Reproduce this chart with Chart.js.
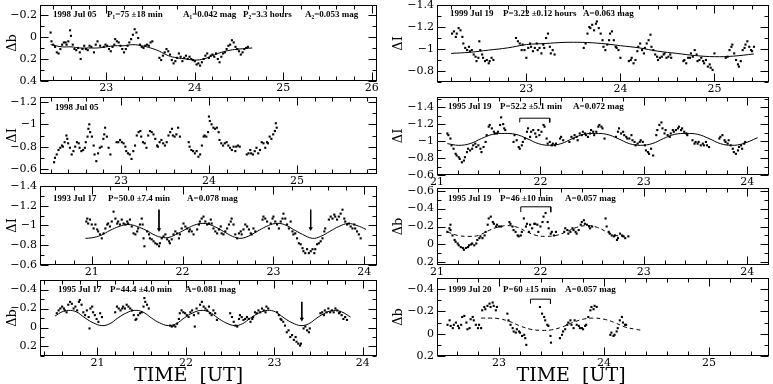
<!DOCTYPE html>
<html>
<head>
<meta charset="utf-8">
<script src="https://cdn.jsdelivr.net/npm/chart.js@4.4.1/dist/chart.umd.min.js"></script>
<style>
  body { margin: 0; background: #fff; width: 773px; height: 384px; position: relative; overflow: hidden; }
  canvas { position: absolute; background: transparent; }
</style>
</head>
<body>
<script>
// ---------- data (time in UT hours, magnitude differences) ----------

// left column, panel 1 : delta b, 1998 Jul 05
const L1_DB = [[22.37,-0.04],[22.38,0.04],[22.40,0.07],[22.42,0.09],[22.44,0.14],[22.46,0.15],[22.48,0.11],[22.50,0.07],[22.52,0.05],[22.54,0.05],[22.55,0.07],[22.57,0.04],[22.59,-0.06],[22.60,-0.01],[22.62,0.07],[22.64,0.11],[22.66,0.12],[22.68,0.10],[22.70,0.14],[22.71,0.20],[22.73,0.11],[22.75,0.08],[22.77,0.11],[22.79,0.12],[22.81,0.08],[22.83,0.09],[22.86,0.14],[22.88,0.07],[22.90,0.04],[22.93,0.08],[22.97,0.09],[22.99,0.07],[23.01,0.08],[23.03,0.11],[23.05,0.13],[23.07,0.09],[23.09,0.07],[23.10,0.02],[23.12,0.04],[23.14,0.05],[23.16,0.08],[23.18,0.11],[23.20,0.14],[23.22,0.11],[23.24,0.08],[23.26,0.05],[23.28,0.02],[23.30,-0.02],[23.32,-0.07],[23.34,-0.04],[23.36,0.01],[23.38,0.07],[23.40,0.09],[23.42,0.10],[23.44,0.08],[23.46,0.07],[23.48,0.08],[23.50,0.05],[23.52,0.04],
  [23.60,0.19],[23.62,0.21],[23.64,0.17],[23.66,0.14],[23.68,0.11],[23.70,0.13],[23.72,0.16],[23.74,0.21],[23.76,0.24],[23.78,0.22],[23.80,0.19],[23.82,0.15],[23.84,0.18],[23.86,0.22],[23.88,0.19],[23.90,0.17],[23.92,0.20],[23.94,0.18],[23.96,0.20],[23.98,0.21],[24.00,0.22],[24.02,0.25],[24.04,0.24],[24.06,0.26],[24.08,0.23],[24.10,0.20],[24.12,0.17],[24.14,0.15],[24.16,0.19],[24.18,0.17],[24.20,0.16],[24.22,0.18],[24.24,0.15],[24.26,0.20],[24.28,0.23],[24.30,0.18],[24.32,0.15],[24.34,0.14],[24.36,0.11],[24.38,0.08],[24.40,0.07],[24.42,0.03],[24.44,0.05],[24.46,0.09],[24.48,0.11],[24.50,0.13],[24.52,0.16],[24.54,0.14],[24.56,0.11],[24.58,0.10],[24.60,0.09]];
const L1_FIT = [[22.37,0.07],[22.5,0.09],[22.6,0.09],[22.7,0.10],[22.8,0.10],[22.9,0.10],[23.0,0.09],[23.1,0.08],[23.2,0.08],[23.3,0.07],[23.4,0.08],[23.5,0.10],[23.6,0.13],[23.7,0.17],[23.8,0.19],[23.9,0.20],[24.0,0.21],[24.1,0.20],[24.2,0.17],[24.3,0.14],[24.4,0.12],[24.5,0.11],[24.65,0.10]];

// left column, panel 2 : delta I, 1998 Jul 05
const L2_DI = [[22.24,-0.66],[22.25,-0.70],[22.27,-0.73],[22.29,-0.77],[22.31,-0.79],[22.33,-0.81],[22.34,-0.80],[22.36,-0.84],[22.38,-0.90],[22.39,-0.87],[22.40,-0.83],[22.42,-0.79],[22.44,-0.73],[22.46,-0.76],[22.48,-0.80],[22.50,-0.84],[22.52,-0.83],[22.53,-0.79],[22.55,-0.76],[22.57,-0.77],[22.59,-0.79],[22.60,-0.84],[22.62,-0.89],[22.63,-0.96],[22.64,-1.00],[22.65,-0.93],[22.67,-0.89],[22.69,-0.81],[22.70,-0.73],[22.72,-0.67],[22.74,-0.74],[22.76,-0.79],[22.78,-0.80],[22.80,-0.87],[22.81,-0.91],[22.82,-0.97],[22.84,-0.89],[22.86,-0.79],[22.88,-0.73],
  [22.95,-0.84],[22.97,-0.84],[22.99,-0.86],[23.01,-0.84],[23.03,-0.83],[23.05,-0.80],[23.06,-0.76],[23.08,-0.74],[23.10,-0.73],[23.12,-0.69],[23.14,-0.76],[23.16,-0.81],[23.18,-0.90],[23.20,-0.93],[23.22,-0.94],[23.23,-0.89],[23.25,-0.84],[23.27,-0.83],[23.29,-0.79],[23.31,-0.90],[23.33,-0.94],[23.35,-0.93],[23.37,-0.91],[23.39,-0.87],[23.41,-0.81],[23.42,-0.80],[23.44,-0.84],[23.46,-0.86],[23.48,-0.83],[23.50,-0.81],[23.52,-0.84],[23.54,-0.90],[23.56,-0.93],[23.58,-0.96],[23.59,-0.90],[23.61,-0.89],[23.63,-0.91],[23.65,-0.97],[23.67,-0.89],
  [23.77,-0.84],[23.78,-0.80],[23.80,-0.77],[23.82,-0.76],[23.84,-0.74],[23.86,-0.76],[23.88,-0.71],[23.90,-0.73],[23.92,-0.81],[23.94,-0.89],[23.95,-0.90],[23.97,-0.89],[23.99,-0.93],[24.00,-1.07],[24.01,-1.03],[24.03,-1.00],[24.05,-0.97],[24.07,-0.96],[24.09,-0.97],[24.11,-0.93],[24.12,-0.86],[24.14,-0.83],[24.16,-0.81],[24.18,-0.83],[24.20,-0.84],[24.22,-0.81],[24.24,-0.79],[24.26,-0.77],[24.28,-0.80],[24.30,-0.76],[24.31,-0.80],[24.33,-0.81],[24.35,-0.80],
  [24.43,-0.73],[24.45,-0.74],[24.47,-0.77],[24.48,-0.74],[24.50,-0.73],[24.52,-0.76],[24.54,-0.79],[24.56,-0.74],[24.58,-0.77],[24.60,-0.84],[24.62,-0.83],[24.64,-0.79],[24.66,-0.84],[24.67,-0.83],[24.69,-0.89],[24.71,-0.87],[24.73,-0.91],[24.75,-0.94],[24.76,-1.01],[24.77,-0.97]];

// left column, panel 3 : delta I, 1993 Jul 17
const L3_DI = [[20.94,-1.04],[20.95,-1.07],[20.96,-1.02],[20.98,-1.06],[21.00,-1.01],[21.02,-0.97],[21.04,-1.01],[21.06,-0.96],[21.07,-0.94],[21.09,-0.91],[21.11,-0.87],[21.13,-0.92],[21.15,-0.97],[21.17,-1.01],[21.18,-1.02],[21.20,-0.99],[21.22,-1.04],[21.24,-1.14],[21.26,-1.07],[21.28,-1.02],[21.29,-1.04],[21.31,-1.01],[21.33,-1.06],[21.35,-1.02],[21.37,-1.01],[21.39,-1.04],[21.40,-1.02],[21.42,-1.06],[21.44,-0.99],[21.46,-0.92],[21.48,-0.91],[21.50,-0.94],[21.51,-0.97],[21.53,-1.01],[21.55,-1.07],[21.56,-1.01],[21.57,-0.87],[21.58,-0.79],
  [21.61,-0.94],[21.63,-0.91],[21.64,-0.87],[21.66,-0.86],[21.68,-0.84],[21.70,-0.82],[21.72,-0.81],[21.74,-0.79],[21.75,-0.82],[21.77,-0.87],[21.79,-0.89],[21.81,-0.91],[21.83,-0.86],[21.85,-0.84],[21.86,-0.82],[21.88,-0.86],[21.90,-0.91],[21.92,-0.94],[21.94,-0.92],[21.96,-0.87],[21.97,-0.91],[21.99,-0.97],[22.01,-1.02],[22.03,-0.99],[22.05,-0.97],[22.07,-0.94],[22.08,-0.96],[22.10,-0.94],[22.12,-0.91],
  [22.16,-0.96],[22.18,-1.01],[22.19,-1.04],[22.21,-1.07],[22.23,-1.09],[22.25,-1.04],[22.27,-1.01],[22.29,-1.02],[22.31,-1.06],[22.32,-1.02],[22.34,-0.97],[22.36,-0.94],[22.38,-0.92],[22.40,-0.96],[22.42,-0.99],[22.43,-0.92],[22.45,-0.91],[22.47,-0.94],[22.49,-0.97],[22.51,-1.01],[22.53,-1.04],[22.54,-1.07],[22.56,-1.01],[22.58,-0.91],[22.60,-0.87],[22.62,-0.92],[22.64,-0.94],[22.65,-0.91],[22.67,-0.96],[22.69,-1.01],[22.71,-0.99],[22.73,-0.96],[22.75,-0.92],[22.76,-0.91],[22.78,-0.97],[22.80,-0.94],
  [22.88,-1.06],[22.89,-1.09],[22.91,-1.07],[22.93,-1.04],[22.95,-0.97],[22.97,-1.02],[22.99,-1.07],[23.00,-1.09],[23.02,-1.04],[23.04,-1.01],[23.06,-0.97],[23.08,-1.04],[23.10,-1.07],[23.11,-1.12],[23.13,-1.07],[23.15,-1.01],[23.17,-0.97],[23.19,-1.04],[23.21,-0.94],[23.22,-0.91],[23.24,-0.92],[23.26,-0.87],[23.28,-0.82],[23.30,-0.81],[23.32,-0.77],[23.33,-0.74],[23.35,-0.72],[23.37,-0.76],[23.39,-0.72],[23.41,-0.74],[23.43,-0.76],[23.45,-0.72],[23.46,-0.76],[23.48,-0.81],[23.50,-0.82],[23.52,-0.84],[23.54,-0.87],[23.56,-0.94],[23.57,-0.97],
  [23.61,-1.06],[23.63,-1.09],[23.65,-1.07],[23.67,-1.11],[23.68,-1.09],[23.70,-1.06],[23.72,-1.09],[23.74,-1.12],[23.76,-1.16],[23.78,-1.07],[23.79,-1.04],[23.81,-1.01],[23.83,-1.02],[23.85,-0.99],[23.87,-0.97],[23.89,-1.01],[23.90,-0.97],[23.92,-0.94],[23.94,-0.91],[23.96,-0.87]];
const L3_FIT = [[20.93,-0.87],[21.0,-0.875],[21.1,-0.90],[21.2,-0.95],[21.3,-0.99],[21.4,-1.01],[21.5,-0.99],[21.6,-0.95],[21.7,-0.90],[21.77,-0.88],[21.85,-0.88],[21.95,-0.92],[22.05,-0.97],[22.15,-1.01],[22.25,-1.02],[22.35,-0.99],[22.45,-0.94],[22.55,-0.89],[22.63,-0.87],[22.72,-0.89],[22.82,-0.94],[22.92,-0.99],[23.02,-1.02],[23.12,-1.01],[23.22,-0.96],[23.32,-0.91],[23.43,-0.87],[23.52,-0.89],[23.62,-0.94],[23.72,-0.99],[23.82,-1.02],[23.92,-1.00],[24.02,-0.96]];
const L3_ARROW_A = [[21.74,-1.16],[21.74,-0.96]];
const L3_ARROW_B = [[23.41,-1.16],[23.41,-0.97]];

// left column, panel 4 : delta b, 1995 Jul 17
const L4_DB = [[20.54,-0.15],[20.56,-0.18],[20.58,-0.20],[20.60,-0.22],[20.62,-0.20],[20.63,-0.18],[20.65,-0.16],[20.67,-0.24],[20.69,-0.27],[20.71,-0.25],[20.73,-0.20],[20.75,-0.22],[20.77,-0.18],[20.79,-0.27],[20.80,-0.29],[20.82,-0.24],[20.84,-0.16],[20.86,-0.13],[20.88,-0.18],[20.90,-0.11],[20.91,0.01],[20.92,-0.20],[20.94,-0.22],[20.95,-0.16],[20.97,-0.13],[20.99,-0.09],[21.01,-0.06],[21.03,-0.15],[21.05,-0.11],
  [21.20,-0.16],[21.22,-0.22],[21.24,-0.20],[21.26,-0.18],[21.28,-0.20],[21.29,-0.22],[21.31,-0.20],[21.33,-0.24],[21.35,-0.22],[21.37,-0.20],[21.39,-0.18],[21.41,-0.13],[21.43,-0.08],[21.44,-0.09],[21.46,-0.13],[21.48,-0.15],[21.50,-0.16],[21.52,-0.22],[21.53,-0.31],[21.54,-0.27],[21.56,-0.24],[21.58,-0.20],
  [21.82,-0.02],[21.84,-0.01],[21.86,-0.02],[21.88,-0.01],[21.90,-0.04],[21.92,-0.09],[21.93,-0.15],[21.95,-0.18],[21.97,-0.16],[21.99,-0.15],[22.01,-0.13],[22.03,-0.11],[22.05,-0.16],[22.07,-0.18],[22.09,-0.13],[22.10,-0.01],[22.12,-0.20],[22.14,-0.15],[22.16,-0.24],[22.18,-0.27],[22.20,-0.22],[22.22,-0.20],[22.24,-0.18],[22.26,-0.22],[22.27,-0.15],[22.29,-0.13],[22.31,-0.18],[22.33,-0.15],[22.35,-0.08],
  [22.50,-0.15],[22.52,-0.11],[22.54,-0.06],[22.56,-0.02],[22.58,-0.01],[22.60,-0.09],[22.61,-0.13],[22.63,-0.11],[22.65,-0.08],[22.67,-0.09],[22.69,-0.11],[22.71,-0.09],[22.73,-0.06],[22.75,-0.09],[22.76,-0.11],[22.78,-0.16],[22.80,-0.15],[22.82,-0.18],[22.84,-0.16],[22.86,-0.20],[22.88,-0.18],[22.90,-0.16],[22.91,-0.22],[22.93,-0.20],
  [23.03,-0.16],[23.05,-0.13],[23.07,-0.09],[23.08,-0.08],[23.10,-0.06],[23.12,-0.02],[23.14,0.05],[23.16,0.03],[23.18,0.10],[23.20,0.08],[23.22,0.13],[23.24,0.10],[23.25,0.15],[23.27,0.17],[23.29,0.19],[23.30,0.17],[23.33,0.01],[23.35,-0.01],[23.37,0.03],[23.39,0.05],[23.40,0.01],
  [23.52,-0.15],[23.54,-0.16],[23.56,-0.13],[23.57,-0.18],[23.59,-0.16],[23.61,-0.20],[23.63,-0.16],[23.65,-0.18],[23.67,-0.16],[23.69,-0.20],[23.71,-0.18],[23.73,-0.15],[23.74,-0.16],[23.76,-0.13],[23.78,-0.09],[23.80,-0.11],[23.82,-0.08]];
const L4_FIT = [[20.52,-0.12],[20.60,-0.165],[20.67,-0.18],[20.76,-0.165],[20.86,-0.10],[20.95,-0.05],[21.05,-0.02],[21.14,-0.04],[21.23,-0.10],[21.33,-0.155],[21.42,-0.18],[21.51,-0.165],[21.61,-0.10],[21.70,-0.05],[21.80,-0.02],[21.89,-0.04],[21.98,-0.10],[22.08,-0.155],[22.17,-0.18],[22.26,-0.165],[22.36,-0.10],[22.45,-0.05],[22.55,-0.02],[22.64,-0.04],[22.73,-0.10],[22.83,-0.155],[22.92,-0.18],[23.01,-0.165],[23.11,-0.10],[23.20,-0.05],[23.30,-0.02],[23.39,-0.04],[23.48,-0.10],[23.58,-0.155],[23.67,-0.18],[23.76,-0.165],[23.86,-0.11]];
const L4_ARROW = [[23.31,-0.27],[23.31,-0.09]];

// right column, panel 1 : delta I, 1999 Jul 19
const R1_DI = [[22.21,-1.14],[22.23,-1.16],[22.25,-1.11],[22.26,-1.14],[22.28,-1.19],[22.30,-1.17],[22.32,-1.11],[22.33,-1.05],[22.35,-1.01],[22.37,-0.99],[22.39,-1.02],[22.40,-0.98],[22.42,-0.99],[22.44,-0.95],[22.46,-0.93],[22.47,-0.89],[22.49,-0.92],[22.50,-1.07],[22.51,-0.99],[22.53,-0.95],[22.54,-0.92],[22.56,-0.89],[22.58,-0.90],[22.60,-0.87],[22.61,-0.89],[22.63,-0.92],[22.65,-0.90],
  [22.89,-1.10],[22.91,-1.07],[22.93,-1.05],[22.95,-0.99],[22.96,-1.04],[22.98,-0.99],[23.00,-0.92],[23.02,-1.01],[23.04,-1.05],[23.05,-1.02],[23.07,-0.98],[23.09,-1.01],[23.11,-1.05],[23.12,-0.99],[23.14,-1.01],[23.16,-0.96],[23.18,-1.04],[23.19,-1.01],[23.21,-1.10],[23.23,-1.14],[23.25,-1.02],[23.26,-0.96],[23.28,-0.99],[23.30,-0.95],
  [23.61,-1.01],[23.63,-1.05],[23.65,-1.14],[23.67,-1.20],[23.68,-1.19],[23.70,-1.22],[23.72,-1.17],[23.74,-1.23],[23.75,-1.25],[23.77,-1.19],[23.79,-1.14],[23.81,-1.08],[23.82,-1.02],[23.84,-0.99],[23.86,-1.04],[23.88,-1.08],[23.89,-1.14],[23.91,-1.16],[23.93,-1.08],[23.95,-1.02],[23.96,-1.01],[23.98,-0.99],[24.00,-0.92],
  [24.09,-0.89],[24.11,-0.90],[24.12,-0.92],[24.14,-0.87],[24.16,-0.90],[24.18,-0.98],[24.19,-1.02],[24.21,-1.05],[24.23,-0.99],[24.25,-0.96],[24.26,-1.01],[24.28,-1.05],[24.30,-1.08],[24.32,-1.13],[24.33,-1.02],[24.35,-0.99],[24.37,-0.95],[24.39,-0.93],[24.40,-0.90],[24.42,-0.92],[24.44,-0.93],[24.46,-0.95],[24.47,-0.96],[24.49,-0.92],[24.51,-0.93],[24.53,-0.95],[24.54,-0.92],
  [24.67,-0.89],[24.68,-0.90],[24.70,-0.87],[24.72,-0.92],[24.74,-0.92],[24.75,-0.96],[24.77,-0.93],[24.79,-0.99],[24.81,-0.95],[24.82,-0.89],[24.84,-0.90],[24.86,-0.92],[24.88,-0.89],[24.89,-0.87],[24.91,-0.90],[24.93,-0.84],[24.95,-0.86],[24.96,-0.83],[24.98,-0.81],[25.00,-0.96],
  [25.12,-0.92],[25.14,-0.93],[25.16,-0.99],[25.18,-1.02],[25.19,-1.04],[25.21,-0.96],[25.23,-0.90],[25.25,-0.86],[25.26,-0.84],[25.28,-0.89],[25.30,-0.99],[25.32,-1.01],[25.33,-1.04],[25.35,-1.07],[25.37,-1.02],[25.39,-0.99],[25.40,-0.98],[25.42,-1.02]];
const R1_FIT = [[22.20,-0.96],[22.4,-0.97],[22.6,-0.99],[22.8,-1.01],[23.0,-1.04],[23.2,-1.05],[23.4,-1.06],[23.6,-1.06],[23.8,-1.05],[24.0,-1.03],[24.2,-1.01],[24.4,-0.98],[24.6,-0.96],[24.8,-0.94],[25.0,-0.93],[25.2,-0.935],[25.42,-0.955]];

// right column, panel 2 : delta I, 1995 Jul 19
const R2_DI = [[21.10,-1.09],[21.11,-1.07],[21.13,-1.03],[21.14,-0.95],[21.16,-0.91],[21.18,-0.85],[21.19,-0.83],[21.21,-0.81],[21.22,-0.79],[21.24,-0.75],[21.26,-0.77],[21.27,-0.81],[21.29,-0.87],[21.30,-0.91],[21.32,-0.89],[21.34,-0.91],[21.35,-0.95],[21.37,-0.97],[21.38,-0.93],[21.40,-0.95],[21.42,-0.91],[21.43,-0.87],[21.45,-0.93],[21.47,-0.99],[21.48,-1.07],[21.50,-1.17],[21.51,-1.19],[21.53,-1.15],[21.55,-1.11],[21.56,-1.09],[21.58,-1.09],[21.59,-1.11],[21.61,-1.19],[21.62,-1.28],[21.64,-1.20],[21.65,-1.15],[21.66,-1.13],
  [21.74,-0.99],[21.75,-1.07],[21.77,-1.01],[21.79,-0.93],[21.80,-0.91],[21.82,-0.95],[21.83,-0.99],[21.85,-1.03],[21.87,-1.11],[21.88,-1.15],[21.90,-1.05],[21.91,-1.11],[21.93,-1.13],[21.95,-1.09],[21.96,-1.05],[21.98,-1.13],[21.99,-1.07],[22.01,-1.11],[22.03,-1.19],[22.04,-1.17],[22.06,-1.03],[22.07,-0.97],[22.09,-0.99],[22.11,-0.95],[22.12,-0.97],[22.14,-0.95],[22.15,-0.97],[22.19,-1.03],[22.20,-1.05],[22.22,-1.01],
  [22.28,-0.99],[22.30,-1.05],[22.32,-1.03],[22.33,-1.07],[22.35,-1.05],[22.36,-1.01],[22.38,-1.09],[22.40,-1.07],[22.41,-1.11],[22.43,-1.09],[22.44,-1.07],[22.46,-1.05],[22.48,-1.09],[22.49,-1.13],[22.51,-1.11],[22.52,-1.07],[22.54,-1.11],[22.56,-1.17],[22.57,-1.19],[22.59,-1.17],[22.60,-1.15],[22.62,-1.03],
  [22.73,-1.05],[22.75,-1.11],[22.76,-1.15],[22.78,-1.09],[22.80,-1.11],[22.81,-1.07],[22.83,-1.05],[22.84,-1.03],[22.86,-1.03],[22.88,-1.07],[22.89,-1.01],[22.91,-0.99],[22.92,-0.95],[22.94,-0.97],[22.96,-0.99],[22.97,-1.01],[22.99,-0.99],[23.01,-0.95],[23.02,-0.89],[23.04,-0.87],[23.05,-0.85],[23.07,-0.91],[23.09,-0.83],
  [23.12,-1.07],[23.13,-1.13],[23.15,-1.19],[23.17,-1.22],[23.18,-1.15],[23.20,-1.09],[23.21,-1.13],[23.23,-1.07],[23.25,-1.05],[23.26,-1.09],[23.28,-1.13],[23.29,-1.11],[23.31,-1.13],[23.33,-1.15],[23.34,-1.17],[23.36,-1.13],[23.37,-1.15],[23.39,-1.11],[23.41,-1.09],[23.42,-1.07],
  [23.47,-1.01],[23.49,-0.97],[23.50,-0.99],[23.52,-0.97],[23.53,-0.99],[23.55,-0.95],[23.57,-0.97],[23.58,-0.95],[23.60,-0.99],[23.61,-0.95],[23.63,-0.93],
  [23.73,-1.03],[23.74,-1.05],[23.76,-1.07],[23.78,-1.01],[23.79,-0.99],[23.81,-0.97],[23.82,-1.01],[23.84,-0.95],[23.86,-0.91],[23.87,-0.87],[23.89,-0.85],[23.91,-0.89],[23.92,-0.93],[23.94,-0.95],[23.95,-0.91],[23.97,-0.97],[23.98,-0.99]];
const R2_FIT = [[21.10,-0.97],[21.21,-0.95],[21.32,-0.97],[21.43,-1.03],[21.54,-1.08],[21.65,-1.09],[21.76,-1.08],[21.87,-1.03],[21.98,-0.97],[22.09,-0.95],[22.20,-0.97],[22.31,-1.03],[22.42,-1.08],[22.53,-1.09],[22.64,-1.08],[22.75,-1.03],[22.86,-0.97],[22.97,-0.95],[23.08,-0.97],[23.19,-1.03],[23.30,-1.08],[23.41,-1.09],[23.52,-1.08],[23.63,-1.03],[23.74,-0.97],[23.85,-0.95],[23.96,-0.97],[24.10,-1.04]];
const R2_BRACKET = [[21.80,-1.22],[21.80,-1.27],[22.09,-1.27],[22.09,-1.22]];

// right column, panel 3 : delta b, 1995 Jul 19
const R3_DB = [[21.10,-0.14],[21.12,-0.18],[21.13,-0.22],[21.13,-0.16],[21.15,-0.10],[21.17,-0.05],[21.18,-0.03],[21.20,-0.01],[21.21,0.01],[21.23,0.03],[21.25,0.04],[21.26,0.06],[21.28,0.04],[21.30,0.03],[21.31,0.01],[21.33,0.00],[21.34,-0.01],[21.36,0.01],[21.38,-0.01],[21.39,-0.05],[21.41,-0.07],[21.42,-0.09],[21.44,-0.07],[21.46,-0.10],[21.47,-0.14],[21.49,-0.22],[21.50,-0.29],[21.52,-0.31],[21.54,-0.25],[21.55,-0.23],[21.57,-0.20],[21.58,-0.22],[21.60,-0.20],[21.62,-0.20],
  [21.70,-0.25],[21.71,-0.23],[21.73,-0.20],[21.74,-0.16],[21.76,-0.14],[21.78,-0.10],[21.79,-0.09],[21.81,-0.10],[21.82,-0.14],[21.84,-0.29],[21.86,-0.20],[21.87,-0.23],[21.89,-0.14],[21.90,-0.22],[21.92,-0.18],[21.94,-0.23],[21.95,-0.23],[21.97,-0.22],[21.98,-0.14],[22.00,-0.20],[22.02,-0.25],[22.03,-0.31],[22.05,-0.35],[22.07,-0.25],[22.08,-0.18],[22.10,-0.12],[22.11,-0.14],[22.13,-0.10],[22.15,-0.14],
  [22.23,-0.14],[22.24,-0.18],[22.26,-0.16],[22.27,-0.12],[22.29,-0.14],[22.31,-0.18],[22.32,-0.16],[22.34,-0.14],[22.35,-0.12],[22.37,-0.16],[22.39,-0.22],[22.40,-0.25],[22.42,-0.27],[22.43,-0.23],[22.45,-0.22],[22.47,-0.20],[22.48,-0.18],[22.50,-0.20],
  [22.63,-0.29],[22.64,-0.20],[22.66,-0.14],[22.67,-0.12],[22.69,-0.10],[22.71,-0.09],[22.72,-0.10],[22.74,-0.05],[22.75,-0.07],[22.77,-0.12],[22.79,-0.10],[22.80,-0.09],[22.82,-0.07],[22.85,-0.09]];
const R3_FIT = [[21.10,-0.14],[21.20,-0.10],[21.30,-0.09],[21.40,-0.10],[21.49,-0.15],[21.58,-0.19],[21.68,-0.21],[21.78,-0.19],[21.87,-0.14],[21.96,-0.10],[22.05,-0.09],[22.15,-0.10],[22.25,-0.14],[22.35,-0.19],[22.45,-0.21],[22.55,-0.19],[22.64,-0.14],[22.73,-0.10],[22.82,-0.09]];
const R3_BRACKET = [[21.81,-0.36],[21.81,-0.42],[22.10,-0.42],[22.10,-0.36]];

// right column, panel 4 : delta b, 1999 Jul 20
const R4_DB = [[22.51,-0.08],[22.53,-0.12],[22.54,-0.07],[22.56,-0.05],[22.57,-0.08],[22.59,-0.10],[22.61,-0.07],[22.62,-0.05],[22.64,-0.08],[22.65,-0.15],[22.67,-0.16],[22.69,-0.10],[22.70,-0.04],[22.72,-0.05],[22.73,-0.13],[22.75,-0.15],[22.76,-0.12],[22.78,-0.08],[22.80,-0.05],[22.81,-0.08],[22.83,-0.05],
  [22.84,-0.21],[22.86,-0.24],[22.87,-0.22],[22.89,-0.25],[22.91,-0.27],[22.92,-0.24],[22.94,-0.28],[22.95,-0.25],[22.97,-0.21],[22.98,-0.24],
  [23.08,-0.18],[23.09,-0.12],[23.11,-0.08],[23.13,-0.05],[23.14,-0.02],[23.16,-0.01],[23.17,-0.04],[23.19,-0.02],[23.20,-0.01],[23.22,0.02],[23.24,0.01],[23.25,0.04],[23.26,0.10],
  [23.39,-0.24],[23.41,-0.18],[23.43,-0.15],[23.44,-0.12],[23.46,-0.08],[23.47,-0.07],[23.49,0.02],[23.495,0.08],
  [23.58,0.04],[23.60,0.01],[23.61,-0.02],[23.63,-0.04],[23.65,-0.08],[23.66,-0.10],[23.68,-0.12],[23.69,-0.08],[23.71,-0.05],[23.72,-0.12],[23.74,-0.08],[23.76,-0.07],[23.77,-0.05],[23.79,-0.05],[23.80,-0.04],[23.82,-0.07],[23.83,-0.08],[23.85,-0.15],[23.87,-0.21],[23.88,-0.24],[23.90,-0.22],[23.91,-0.25],[23.93,-0.24],
  [24.06,0.01],[24.07,-0.01],[24.09,0.02],[24.10,0.01],[24.12,-0.02],[24.13,-0.05],[24.15,-0.12],[24.17,-0.15],[24.18,-0.10],[24.20,-0.08],[24.21,-0.08]];
const R4_FIT = [[22.83,-0.14],[22.92,-0.14],[23.0,-0.135],[23.1,-0.11],[23.2,-0.07],[23.3,-0.04],[23.4,-0.03],[23.5,-0.035],[23.6,-0.06],[23.7,-0.10],[23.8,-0.13],[23.9,-0.14],[24.0,-0.13],[24.1,-0.10],[24.2,-0.06],[24.3,-0.04],[24.36,-0.03]];
const R4_BRACKET = [[23.30,-0.27],[23.30,-0.31],[23.49,-0.31],[23.49,-0.27]];

// axis ranges and tick labels
const X_RANGE = { L1: [22.25, 26.06], L2: [22.08, 25.91], L3: [20.43, 24.14], L4: [20.35, 24.16],
                  R1: [22.05, 25.58], R2: [21.0, 24.21], R3: [21.0, 24.21], R4: [22.41, 25.57] };
const Y_RANGE = { L1: [-0.29, 0.4], L2: [-1.245, -0.555], L3: [-1.4, -0.6], L4: [-0.5, 0.3],
                  R1: [-1.4, -0.7], R2: [-1.52, -0.6], R3: [-0.63, 0.23], R4: [-0.5, 0.2] };
const X_TICKS = { L1: [23, 24, 25, 26], L2: [23, 24, 25], L3: [21, 22, 23, 24], L4: [21, 22, 23, 24],
                  R1: [23, 24, 25], R2: [21, 22, 23, 24], R3: [21, 22, 23, 24], R4: [23, 24, 25] };
const Y_TICKS = { L1: [-0.2, 0, 0.2, 0.4], L2: [-1.2, -1, -0.8, -0.6], L3: [-1.4, -1.2, -1, -0.8, -0.6],
                  L4: [-0.4, -0.2, 0, 0.2], R1: [-1.4, -1.2, -1, -0.8], R2: [-1.4, -1.2, -1, -0.8, -0.6],
                  R3: [-0.6, -0.4, -0.2, 0, 0.2], R4: [-0.4, -0.2, 0, 0.2] };

// in-panel labels: [text, offset from the panel's left edge]
const NOTES = {
  L1: [['1998 Jul 05', 13], ['P\u2081=75 \u00b118 min', 67], ['A\u2081=0.042 mag', 143], ['P\u2082=3.3 hours', 203], ['A\u2082=0.053 mag', 265]],
  L2: [['1998 Jul 05', 15]],
  L3: [['1993 Jul 17', 13], ['P=50.0 \u00b17.4 min', 68], ['A=0.078 mag', 147]],
  L4: [['1995 Jul 17', 18], ['P=44.4 \u00b14.0 min', 70], ['A=0.081 mag', 145]],
  R1: [['1999 Jul 19', 13], ['P=3.22 \u00b10.12 hours', 66], ['A=0.063 mag', 146]],
  R2: [['1995 Jul 19', 11], ['P=52.2 \u00b15.1 min', 63], ['A=0.072 mag', 136]],
  R3: [['1995 Jul 19', 11], ['P=46 \u00b110 min', 63], ['A=0.057 mag', 128]],
  R4: [['1999 Jul 20', 11], ['P=60 \u00b115 min', 66], ['A=0.057 mag', 128]]
};

// ---------- drawing ----------
Chart.defaults.font.family = "'DejaVu Serif', serif";
Chart.defaults.font.size = 11;
Chart.defaults.color = '#000';

const pts = arr => arr.map(([x, y]) => ({ x, y }));

// frame with inward ticks on all four sides (minor every 0.2 h / 0.1 mag), one instance per chart
const framePlugin = () => ({
  id: 'frame',
  afterDraw(chart) {
    const ctx = chart.ctx;
    const a = chart.chartArea;
    const xs = chart.scales.x, ys = chart.scales.y;
    const L = Math.round(a.left) + 0.5, R = Math.round(a.right) - 0.5;
    const T = Math.round(a.top) + 0.5, B = Math.round(a.bottom) - 0.5;
    ctx.save();
    ctx.setLineDash([]);
    ctx.strokeStyle = '#000';
    ctx.lineWidth = 1;
    const seg = (x1, y1, x2, y2) => { ctx.beginPath(); ctx.moveTo(x1, y1); ctx.lineTo(x2, y2); ctx.stroke(); };
    const x0 = Math.ceil(xs.min * 5 - 1e-6), x1 = Math.floor(xs.max * 5 + 1e-6);
    for (let i = x0; i <= x1; i++) {
      const px = Math.round(xs.getPixelForValue(i / 5)) + 0.5;
      const len = i % 5 === 0 ? 8 : 4;
      seg(px, T, px, T + len);
      seg(px, B, px, B - len);
    }
    const lo = Math.min(ys.min, ys.max), hi = Math.max(ys.min, ys.max);
    const y0 = Math.ceil(lo * 10 - 1e-6), y1 = Math.floor(hi * 10 + 1e-6);
    for (let j = y0; j <= y1; j++) {
      const py = Math.round(ys.getPixelForValue(j / 10)) + 0.5;
      const len = j % 2 === 0 ? 8 : 4;
      seg(L, py, L + len, py);
      seg(R, py, R - len, py);
    }
    ctx.strokeRect(L, T, R - L, B - T);
    ctx.restore();
  }
});

const notePlugin = (items, dy) => ({
  id: 'notes',
  afterDraw(chart) {
    const { ctx, chartArea: a } = chart;
    ctx.save();
    ctx.font = "bold 9px 'Liberation Serif', serif";
    ctx.fillStyle = '#000';
    ctx.textBaseline = 'middle';
    items.forEach(([t, dx]) => ctx.fillText(t, a.left + dx, a.top + dy));
    ctx.restore();
  }
});

const dots = d => ({ data: pts(d), pointStyle: 'rect', pointRadius: 1.5, backgroundColor: '#000', borderWidth: 0 });
const curve = (d, dash) => ({ data: pts(d), showLine: true, borderColor: '#000', borderWidth: 1, pointRadius: 0, tension: 0.4, borderDash: dash || [] });
const bracket = d => ({ data: pts(d), showLine: true, borderColor: '#000', borderWidth: 1, pointRadius: 0, tension: 0 });
const arrow = d => ({ data: pts(d), showLine: true, borderColor: '#000', borderWidth: 1, tension: 0,
                      pointRadius: [0, 2.5], pointStyle: 'triangle', rotation: 180, backgroundColor: '#000', pointBorderWidth: 0 });

const yFmt = v => String(Math.round(v * 10) / 10).replace('-', '\u2212');

let zi = 1;
function panel(key, geo, yTitle, datasets, dy) {
  const left = geo.col === 'L';
  const canvasLeft = left ? 0 : 370;
  const width = left ? 385 : 403;
  const padR = left ? 8 : 1;
  const yw = left ? 40 : 67;
  const titlePad = left ? 5 : 20.7;
  const padTop = 11;
  const top = geo.top - padTop;
  const titleH = 16.15;
  const height = geo.last ? 384 - top : padTop + (geo.bottom - geo.top) + 14;
  const xh = geo.last ? 384 - geo.bottom - titleH : 14;

  const cv = document.createElement('canvas');
  cv.width = width; cv.height = height;
  cv.style.left = canvasLeft + 'px'; cv.style.top = top + 'px';
  cv.style.zIndex = String(zi++);
  document.body.appendChild(cv);

  new Chart(cv, {
    type: 'scatter',
    data: { datasets },
    options: {
      responsive: false,
      animation: false,
      events: [],
      layout: { padding: { top: padTop, right: padR, left: 0, bottom: 0 } },
      plugins: {
        legend: { display: false },
        tooltip: { enabled: false },
        title: geo.last
          ? { display: true, position: 'bottom', text: 'TIME  [UT]', font: { size: 19, weight: 'normal', lineHeight: 0.85 }, padding: { top: 0, bottom: 0 } }
          : { display: false }
      },
      scales: {
        x: {
          type: 'linear', min: X_RANGE[key][0], max: X_RANGE[key][1],
          grid: { display: false, drawTicks: false }, border: { display: false },
          ticks: { padding: 1, maxRotation: 0, autoSkip: false, callback: v => String(Math.round(v)) },
          afterBuildTicks: s => { s.ticks = X_TICKS[key].map(v => ({ value: v })); },
          afterFit: s => { s.height = xh; }
        },
        y: {
          type: 'linear', reverse: true, min: Y_RANGE[key][0], max: Y_RANGE[key][1],
          grid: { display: false, drawTicks: false }, border: { display: false },
          ticks: { padding: 3, autoSkip: false, callback: yFmt },
          afterBuildTicks: s => { s.ticks = Y_TICKS[key].slice().reverse().map(v => ({ value: v })); },
          afterFit: s => { s.width = yw; },
          title: { display: true, text: yTitle, font: { size: 13 }, padding: { top: titlePad, bottom: 0 } }
        }
      }
    },
    plugins: [framePlugin(), notePlugin(NOTES[key], dy)]
  });
}

panel('L1', { col: 'L', top: 5, bottom: 81 }, '\u0394b', [dots(L1_DB), curve(L1_FIT)], 9.5);
panel('L2', { col: 'L', top: 97, bottom: 174 }, '\u0394I', [dots(L2_DI)], 11);
panel('L3', { col: 'L', top: 186, bottom: 265 }, '\u0394I', [dots(L3_DI), curve(L3_FIT), arrow(L3_ARROW_A), arrow(L3_ARROW_B)], 13);
panel('L4', { col: 'L', top: 280, bottom: 356, last: true }, '\u0394b', [dots(L4_DB), curve(L4_FIT), arrow(L4_ARROW)], 10);
panel('R1', { col: 'R', top: 5, bottom: 82 }, '\u0394I', [dots(R1_DI), curve(R1_FIT)], 9);
panel('R2', { col: 'R', top: 97, bottom: 175 }, '\u0394I', [dots(R2_DI), curve(R2_FIT), bracket(R2_BRACKET)], 10);
panel('R3', { col: 'R', top: 188, bottom: 265 }, '\u0394b', [dots(R3_DB), curve(R3_FIT, [4, 3]), bracket(R3_BRACKET)], 11);
panel('R4', { col: 'R', top: 278, bottom: 356, last: true }, '\u0394b', [dots(R4_DB), curve(R4_FIT, [4, 3]), bracket(R4_BRACKET)], 12);
</script>
</body>
</html>
